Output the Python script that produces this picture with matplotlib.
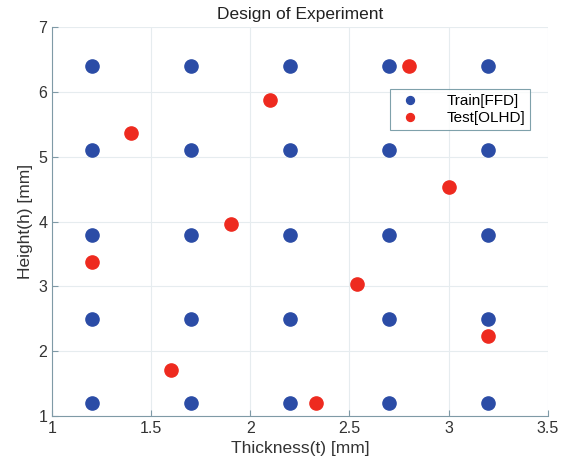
import matplotlib

matplotlib.use("Agg")
import matplotlib.pyplot as plt
import numpy as np

plt.rcParams["font.family"] = ["Liberation Sans", "DejaVu Sans"]

# full-factorial training grid
train_t = [1.2, 1.7, 2.2, 2.7, 3.2]
train_h = [1.2, 2.5, 3.8, 5.1, 6.4]

# optimal Latin hypercube test points
test_t = [1.2, 1.4, 1.6, 1.9, 2.1, 2.33, 2.54, 2.8, 3.0, 3.2]
test_h = [3.38, 5.36, 1.71, 3.96, 5.88, 1.2, 3.04, 6.4, 4.54, 2.24]

tt, hh = np.meshgrid(train_t, train_h)

fig = plt.figure(figsize=(5.67, 4.69), dpi=100)
ax = fig.add_axes([0.092, 0.113, 0.874, 0.829])
ax.plot(tt.ravel(), hh.ravel(), "o", color="#2b4ca6", markersize=9.5, label="Train[FFD]")
ax.plot(test_t, test_h, "o", color="#ee2a1f", markersize=9.5, label="Test[OLHD]")

ax.set_xlim(1, 3.5)
ax.set_ylim(1, 7)
ax.set_xticks(np.arange(1, 3.51, 0.5), ["1", "1.5", "2", "2.5", "3", "3.5"])
ax.set_yticks(range(1, 8))
ax.grid(True, color="#e6ecef", linewidth=0.8)
ax.set_axisbelow(True)
for side in ("top", "right"):
    ax.spines[side].set_visible(False)
for side in ("left", "bottom"):
    ax.spines[side].set_color("#7f9aa6")
ax.tick_params(direction="in", length=4, color="#7f9aa6", labelsize=11.5, labelcolor="#333333")

ax.set_title("Design of Experiment", fontsize=12.5, color="#222222")
ax.set_xlabel("Thickness(t) [mm]", fontsize=12.5, color="#333333")
ax.set_ylabel("Height(h) [mm]", fontsize=12.5, color="#333333")

leg = ax.legend(loc="upper right", bbox_to_anchor=(0.964, 0.84), borderaxespad=0, fontsize=11,
                frameon=True, fancybox=False, handletextpad=1.4, borderpad=0.3,
                labelspacing=0.2, markerscale=0.6)
leg.get_frame().set_edgecolor("#5f8a96")
leg.get_frame().set_linewidth(0.8)

fig.savefig("out.png", dpi=100)
